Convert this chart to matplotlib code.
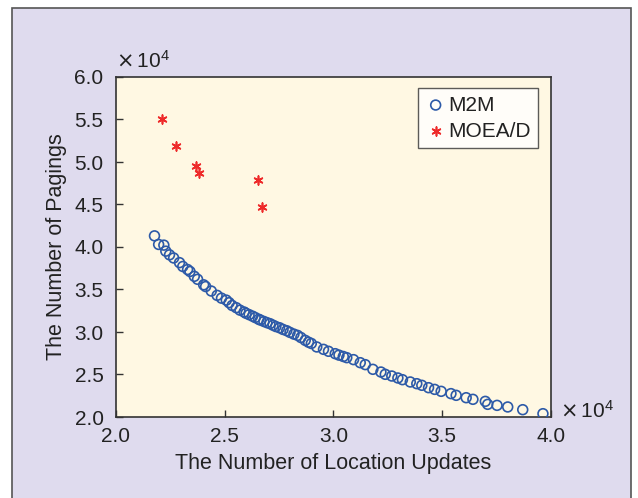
import matplotlib
matplotlib.use("Agg")
import matplotlib.pyplot as plt
from matplotlib.patches import Rectangle

plt.rcParams['font.family'] = ['Liberation Sans', 'DejaVu Sans']

# M2M points (x and y in units of 1e4)
m2m_x = [2.177, 2.196, 2.220, 2.229, 2.246, 2.265, 2.292, 2.307, 2.329, 2.340,
         2.360, 2.375, 2.403, 2.412, 2.438, 2.465, 2.485, 2.507, 2.520, 2.534,
         2.553, 2.570, 2.589, 2.598, 2.612, 2.628, 2.640, 2.656, 2.664, 2.680,
         2.694, 2.708, 2.722, 2.735, 2.752, 2.768, 2.785, 2.800, 2.818, 2.835,
         2.850, 2.870, 2.885, 2.898, 2.923, 2.954, 2.977, 3.008, 3.025, 3.045,
         3.061, 3.092, 3.123, 3.146, 3.181, 3.218, 3.238, 3.268, 3.296, 3.317,
         3.353, 3.383, 3.406, 3.437, 3.465, 3.495, 3.540, 3.564, 3.610, 3.641,
         3.698, 3.709, 3.752, 3.801, 3.870, 3.963]
m2m_y = [4.131, 4.030, 4.022, 3.951, 3.908, 3.871, 3.816, 3.771, 3.735, 3.712,
         3.655, 3.620, 3.555, 3.535, 3.482, 3.431, 3.398, 3.375, 3.345, 3.312,
         3.286, 3.257, 3.235, 3.220, 3.204, 3.186, 3.170, 3.150, 3.140, 3.124,
         3.110, 3.098, 3.080, 3.064, 3.050, 3.030, 3.015, 2.995, 2.975, 2.960,
         2.935, 2.902, 2.880, 2.865, 2.824, 2.796, 2.773, 2.745, 2.728, 2.712,
         2.698, 2.675, 2.639, 2.616, 2.561, 2.529, 2.502, 2.482, 2.459, 2.439,
         2.412, 2.392, 2.373, 2.345, 2.325, 2.302, 2.275, 2.255, 2.227, 2.208,
         2.184, 2.149, 2.137, 2.118, 2.086, 2.039]

# MOEA/D points
moead_x = [2.213, 2.277, 2.368, 2.383, 2.653, 2.673]
moead_y = [5.50, 5.19, 4.95, 4.87, 4.79, 4.47]

x_ticks = [2.0, 2.5, 3.0, 3.5, 4.0]
y_ticks = [2.0, 2.5, 3.0, 3.5, 4.0, 4.5, 5.0, 5.5, 6.0]

W, H = 638, 498
fig = plt.figure(figsize=(W / 100, H / 100), dpi=100)
fig.patch.set_facecolor('white')

# lavender panel with a dark frame
fig.patches.append(Rectangle((12 / W, -0.05), (631 - 12) / W, 1.05 - 8 / H,
                             transform=fig.transFigure, facecolor='#dfdbee',
                             edgecolor='#555555', linewidth=1.2, zorder=-1))

ax = fig.add_axes([116 / W, 1 - 417 / H, (551 - 116) / W, (417 - 77) / H])
ax.set_facecolor('#fff8e3')

ax.scatter(m2m_x, m2m_y, s=50, facecolors='none', edgecolors='#2d5aa8',
           linewidths=1.2, label='M2M', zorder=3)
ax.scatter(moead_x, moead_y, s=40, marker=(6, 2, 0), color='#ee2a2a',
           linewidths=1.2, label='MOEA/D', zorder=3)

ax.set_xlim(2.0, 4.0)
ax.set_ylim(2.0, 6.0)
ax.set_xticks(x_ticks)
ax.set_yticks(y_ticks)
ax.set_xticklabels(['%.1f' % v for v in x_ticks])
ax.set_yticklabels(['%.1f' % v for v in y_ticks])
ax.tick_params(direction='in', length=5, width=1, colors='#333333',
               labelsize=15, labelcolor='#222222', top=False, right=False)
ax.tick_params(axis='x', pad=7)
ax.tick_params(axis='y', pad=9)
for sp in ax.spines.values():
    sp.set_color('#333333')
    sp.set_linewidth(1.2)

ax.set_xlabel('The Number of Location Updates', fontsize=15.5, color='#222222', labelpad=5)
ax.set_ylabel('The Number of Pagings', fontsize=15.5, color='#222222', labelpad=5)

# exponent labels
ax.text(0.0, 1.015, r'$\times\,\mathregular{10^4}$', transform=ax.transAxes,
        fontsize=15, color='#222222', ha='left', va='bottom')
ax.text(1.02, -0.015, r'$\times\,\mathregular{10^4}$', transform=ax.transAxes,
        fontsize=15, color='#222222', ha='left', va='bottom')

leg = ax.legend(loc='upper right', bbox_to_anchor=(0.97, 0.967), fontsize=15,
                frameon=True, fancybox=False, handletextpad=0.1,
                handlelength=1.0, borderpad=0.35, labelspacing=0.35,
                borderaxespad=0.0)
leg.get_frame().set_edgecolor('#333333')
leg.get_frame().set_linewidth(1.0)
leg.get_frame().set_facecolor('white')
for t in leg.get_texts():
    t.set_color('#222222')

fig.savefig('out.png', dpi=100, facecolor=fig.get_facecolor())
